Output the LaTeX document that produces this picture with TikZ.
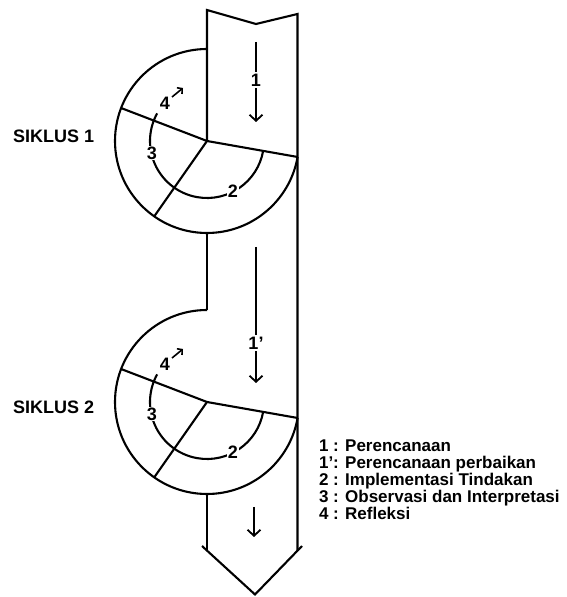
\documentclass[tikz,border=0pt]{standalone}
\usepackage{fontspec}
\setmainfont{Liberation Sans}[BoldFont={Liberation Sans Bold}]
\usetikzlibrary{arrows.meta}
\begin{document}
\begin{tikzpicture}[x=1pt, y=1pt, line width=2.1pt, line join=miter,
  lbl/.style={font=\fontsize{18}{18}\selectfont\bfseries, inner sep=1pt},
  onarc/.style={lbl, fill=white},
  flow/.style={-{Straight Barb[length=6pt,width=13pt,line width=1.8pt]}},
  turn/.style={-{Straight Barb[length=3.5pt,width=8pt,line width=1.6pt]}, line width=1.6pt},
  leg/.style={font=\fontsize{17}{17}\selectfont\bfseries, anchor=base west, inner sep=0pt}]
\useasboundingbox (0,0) rectangle (566,597);

% outline of the big downward arrow
\coordinate (tl) at (207,587);
\coordinate (tn) at (256,573);
\coordinate (tr) at (297.5,583);
\coordinate (br) at (297.5,46.3);
\coordinate (bl) at (207,46.4);
\coordinate (vl) at (202,51);
\coordinate (vt) at (255,2.5);
\coordinate (vr) at (302,51);

% the two cycles
\foreach \c/\y in {1/456, 2/195} {
  \coordinate (c\c) at (207,\y);
  \draw ([shift={(90:92)}]c\c) arc[start angle=90, end angle=350, radius=92];
  \draw (c\c) -- ([shift={(159:92)}]c\c);
  \draw (c\c) -- ([shift={(235:92)}]c\c);
  \draw (c\c) -- ([shift={(350:92)}]c\c);
  \draw ([shift={(-10:57)}]c\c) arc[start angle=-10, end angle=-209, radius=57];
  \node[onarc] (three\c) at ([shift={(-55,-12)}]c\c) {3};
  \node[onarc] (two\c) at ([shift={(26,-50)}]c\c) {2};
  \node[lbl] (four\c) at ([shift={(-42,38)}]c\c) {4};
  \coordinate (ta\c) at ([shift={(-35,44)}]c\c);
  \coordinate (tb\c) at ([shift={(-24,53)}]c\c);
  \draw[turn] (ta\c) -- (tb\c);
}

\draw (c1) -- (tl) -- (tn) -- (tr) -- (br);
\draw ([shift={(270:92)}]c1) -- ([shift={(90:92)}]c2);
\draw ([shift={(270:92)}]c2) -- (bl);
\draw (vl) -- (vt) -- (vr);

% flow arrows inside the band
\coordinate (f1a) at (256,555);
\coordinate (f1b) at (256,475);
\draw[flow] (f1a) -- (f1b);
\node[onarc, inner sep=2pt] (p1) at (256,517) {1};

\coordinate (f2a) at (256,350);
\coordinate (f2b) at (256,214);
\draw[flow] (f2a) -- (f2b);
\node[onarc, inner sep=2pt] (p2) at (256,254) {1’};

\coordinate (f3a) at (254,90);
\coordinate (f3b) at (254,60);
\draw[flow] (f3a) -- (f3b);

% cycle names
\node[lbl, anchor=west, inner sep=0pt] (s1) at (12,460.5) {SIKLUS 1};
\node[lbl, anchor=west, inner sep=0pt] (s2) at (12,190) {SIKLUS 2};

% legend
\node[leg] (l1) at (318,145) {1 : Perencanaan};
\node[leg] (l2) at (318,128) {1’: Perencanaan perbaikan};
\node[leg] (l3) at (318,111) {2 : Implementasi Tindakan};
\node[leg] (l4) at (318,94) {3 : Observasi dan Interpretasi};
\node[leg] (l5) at (318,77) {4 : Refleksi};
\end{tikzpicture}
\end{document}
